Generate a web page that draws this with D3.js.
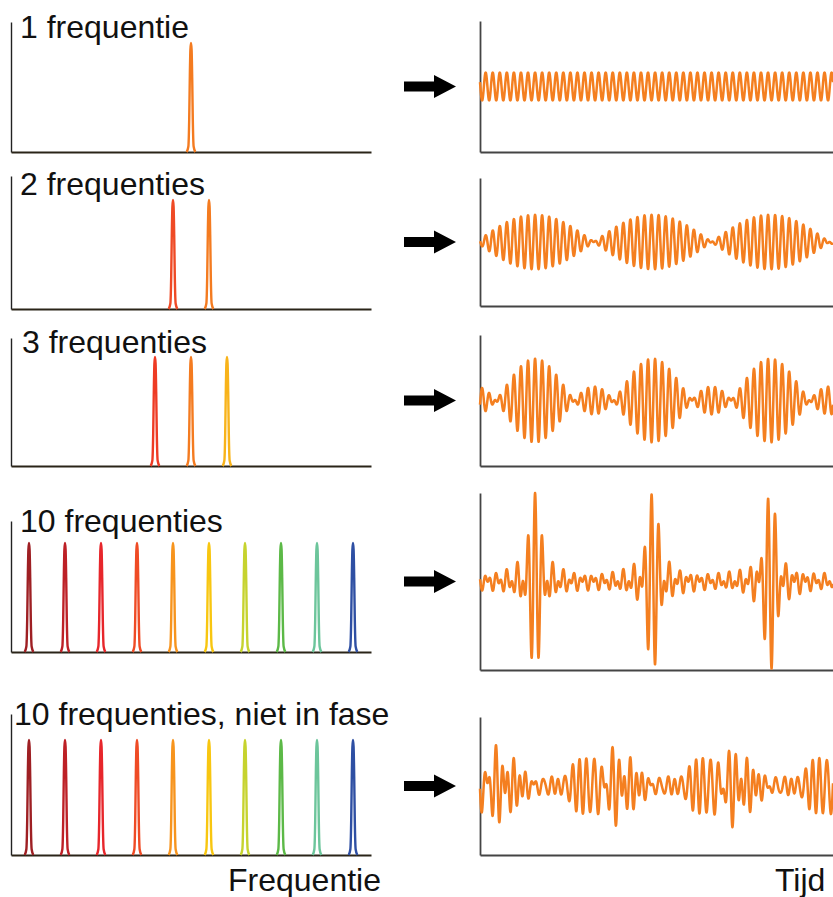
<!DOCTYPE html>
<html>
<head>
<meta charset="utf-8">
<script src="https://cdn.jsdelivr.net/npm/d3@7"></script>
<style>
  body { margin: 0; background: #fff; }
  svg text { font-family: "Liberation Sans", Arial, Helvetica, sans-serif; fill: #111; }
</style>
</head>
<body>
<svg id="chart" width="833" height="897"></svg>
<script>
// titles per row
const titles = ["1 frequentie", "2 frequenties", "3 frequenties", "10 frequenties", "10 frequenties, niet in fase"];

// frequencies (cycles per time window)
const freqOne = [50];
const freqTwo = [48.5, 51.5];
const freqThree = [47, 50, 53];
const freqTen = [36.5, 39.5, 42.5, 45.5, 48.5, 51.5, 54.5, 57.5, 60.5, 63.5];

// peak colours
const colorsOne = ["#f47b20"];
const colorsTwo = ["#ef4a25", "#f47b20"];
const colorsThree = ["#ee3b24", "#f47b20", "#f8b31a"];
const colorsTen = ["#9e1f23", "#bd2026", "#e7262b", "#ef4b25", "#f7941d", "#f8c610", "#c6d32e", "#5cb947", "#6cc59b", "#2e4fa3"];

// phases (radians); the last row is out of phase
const phasesZero = [0, 0, 0, 0, 0, 0, 0, 0, 0, 0];
const phasesMixed = [0.3, 2.1, 4.7, 1.2, 5.5, 3.3, 0.8, 2.9, 4.1, 5.9];

// half range of the time-signal axes
const waveMax = [4.7, 4.7, 4.7, 10, 10.8];

// shape of one spectral peak: [frequency offset, relative height]
const peakProfile = [[-0.36, 0], [-0.22, 0.05], [-0.15, 0.3], [-0.1, 0.68], [-0.05, 0.94], [0, 1],
  [0.05, 0.94], [0.1, 0.68], [0.15, 0.3], [0.22, 0.05], [0.36, 0]];

const rowFreqs = [freqOne, freqTwo, freqThree, freqTen, freqTen];
const rowColors = [colorsOne, colorsTwo, colorsThree, colorsTen, colorsTen];
const rowPhases = [phasesZero, phasesZero, phasesZero, phasesZero, phasesMixed];

// layout
const leftTop = [22, 176, 338, 521, 714];
const leftBottom = [152, 309, 466, 652, 855];
const peakPx = [109, 109, 109, 109, 115];
const rightTop = [21, 178, 335, 493, 717];
const rightBottom = [152, 306, 466, 670, 855];
const titleX = [20, 20, 22, 20, 14];
const titleY = [38, 195, 353, 532, 725];
const t0 = 0.156;

const svg = d3.select('#chart');

const xFreq = d3.scaleLinear().domain([35, 65]).range([11, 371]);
const xTime = d3.scaleLinear().domain([0, 1]).range([480, 833]);
const samples = d3.range(0, 1.0005, 0.0005);

titles.forEach(function(title, i){
  const g = svg.append('g');

  // ---- spectrum (left)
  const yAmp = d3.scaleLinear()
    .domain([0, (leftBottom[i] - leftTop[i]) / peakPx[i]])
    .range([leftBottom[i], leftTop[i]]);

  g.append('g')
    .attr('transform', 'translate(' + xFreq.range()[0] + ',0)')
    .call(d3.axisLeft(yAmp).tickValues([]).tickSizeOuter(0))
    .select('.domain').attr('stroke', '#222').attr('stroke-width', 1.4);

  g.append('g')
    .attr('transform', 'translate(0,' + leftBottom[i] + ')')
    .call(d3.axisBottom(xFreq).tickValues([]).tickSizeOuter(0))
    .select('.domain').attr('stroke', '#2a2418').attr('stroke-width', 2);

  const peakLine = d3.line()
    .x(d => xFreq(d[0]))
    .y(d => yAmp(d[1]))
    .curve(d3.curveMonotoneX);

  g.selectAll('.peak')
    .data(rowFreqs[i])
    .enter().append('path')
    .attr('class', 'peak')
    .attr('fill', 'none')
    .attr('stroke', (d, k) => rowColors[i][k])
    .attr('stroke-width', 2.4)
    .attr('stroke-linejoin', 'round')
    .attr('d', f => peakLine(peakProfile.map(p => [f + p[0], p[1]])));

  g.append('text')
    .attr('x', titleX[i])
    .attr('y', titleY[i])
    .style('font-size', '32px')
    .text(title);

  // ---- time signal (right)
  const yWave = d3.scaleLinear()
    .domain([-waveMax[i], waveMax[i]])
    .range([rightBottom[i], rightTop[i]]);

  g.append('g')
    .attr('transform', 'translate(' + xTime.range()[0] + ',0)')
    .call(d3.axisLeft(yWave).tickValues([]).tickSizeOuter(0))
    .select('.domain').attr('stroke', '#444').attr('stroke-width', 1.8);

  g.append('g')
    .attr('transform', 'translate(0,' + rightBottom[i] + ')')
    .call(d3.axisBottom(xTime).tickValues([]).tickSizeOuter(0))
    .select('.domain').attr('stroke', '#444').attr('stroke-width', 1.8);

  const signal = samples.map(function(t){
    const v = d3.sum(rowFreqs[i], (f, k) => Math.cos(2 * Math.PI * f * (t - t0) + rowPhases[i][k]));
    return [t, v];
  });

  g.append('path')
    .datum(signal)
    .attr('fill', 'none')
    .attr('stroke', '#f47f20')
    .attr('stroke-width', 2.5)
    .attr('stroke-linejoin', 'round')
    .attr('d', d3.line().x(d => xTime(d[0])).y(d => yWave(d[1])));

  // arrow
  const cy = (rightTop[i] + rightBottom[i]) / 2;
  g.append('path')
    .attr('transform', 'translate(404,' + cy + ')')
    .attr('fill', '#000')
    .attr('d', 'M0,-5 L30,-5 L30,-11.5 L52,0 L30,11.5 L30,5 L0,5 Z');
});

svg.append('text')
  .attr('x', 228).attr('y', 891)
  .style('font-size', '32px')
  .text('Frequentie');

svg.append('text')
  .attr('x', 775).attr('y', 891)
  .style('font-size', '32px')
  .text('Tijd');
</script>
</body>
</html>
